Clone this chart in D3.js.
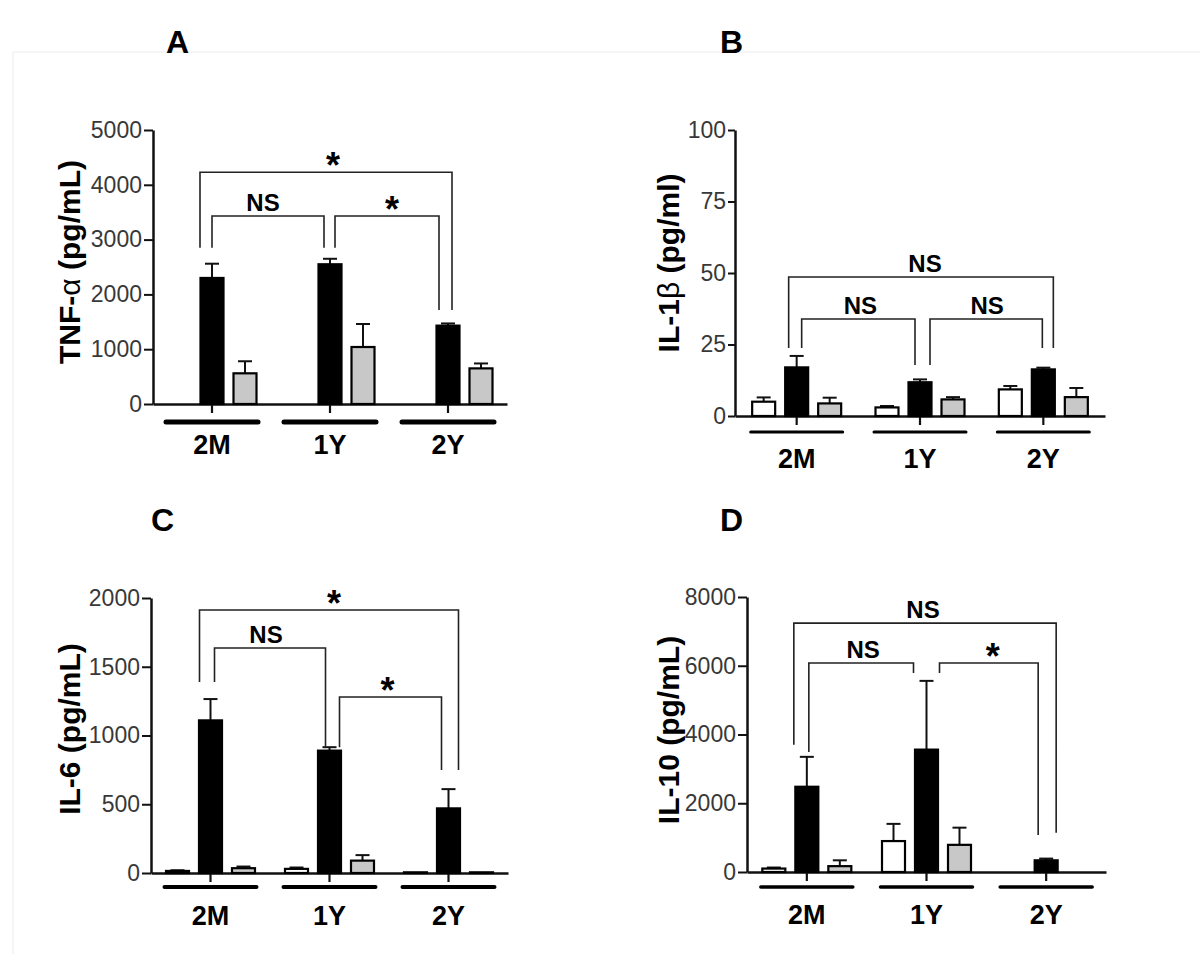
<!DOCTYPE html>
<html>
<head>
<meta charset="utf-8">
<script src="https://cdn.jsdelivr.net/npm/d3@7"></script>
<style>
  body { margin: 0; background: #fff; }
  svg { font-family: 'Liberation Sans', Arial, Helvetica, sans-serif; }
</style>
</head>
<body>
<div id="chart"></div>
<script>
// groups on the x axis and the three bars inside every group (white, black, gray)
const groups = ['2M', '1Y', '2Y'];
const series = ['white', 'black', 'gray'];

// A: TNF-alpha, rows = groups, columns = series
const tnfMean = [[0, 2300, 560], [0, 2550, 1040], [0, 1430, 650]];
const tnfErr = [[0, 260, 220], [0, 100, 420], [0, 40, 90]];
const tnfTicks = [0, 1000, 2000, 3000, 4000, 5000];

// B: IL-1beta
const il1Mean = [[5, 17, 4.4], [3, 11.8, 5.8], [9.3, 16.3, 6.6]];
const il1Err = [[1.5, 4, 2], [0.5, 1, 0.8], [1.2, 0.6, 3.2]];
const il1Ticks = [0, 25, 50, 75, 100];

// C: IL-6
const il6Mean = [[15, 1110, 35], [30, 890, 90], [5, 470, 5]];
const il6Err = [[5, 155, 12], [10, 25, 40], [0, 140, 0]];
const il6Ticks = [0, 500, 1000, 1500, 2000];

// D: IL-10
const il10Mean = [[100, 2480, 170], [900, 3560, 790], [0, 340, 0]];
const il10Err = [[30, 870, 170], [500, 2000, 500], [0, 50, 0]];
const il10Ticks = [0, 2000, 4000, 6000, 8000];

// significance brackets: from group, to group, bar level, leg ends (all in data units)
const tnfBrackets = [
  { label: '*', from: 0, to: 2, level: 4230, legFrom: 2850, legTo: 1715 },
  { label: 'NS', from: 0, to: 1, level: 3430, legFrom: 2850, legTo: 2850 },
  { label: '*', from: 1, to: 2, level: 3430, legFrom: 2850, legTo: 1715 }
];
const il1Brackets = [
  { label: 'NS', from: 0, to: 2, level: 48.6, legFrom: 23.8, legTo: 23.8 },
  { label: 'NS', from: 0, to: 1, level: 33.9, legFrom: 23.8, legTo: 17.8 },
  { label: 'NS', from: 1, to: 2, level: 33.9, legFrom: 17.8, legTo: 23.8 }
];
const il6Brackets = [
  { label: '*', from: 0, to: 2, level: 1913, legFrom: 1390, legTo: 750 },
  { label: 'NS', from: 0, to: 1, level: 1636, legFrom: 1390, legTo: 915 },
  { label: '*', from: 1, to: 2, level: 1280, legFrom: 915, legTo: 750 }
];
const il10Brackets = [
  { label: 'NS', from: 0, to: 2, level: 7240, legFrom: 3700, legTo: 1140 },
  { label: 'NS', from: 0, to: 1, level: 6080, legFrom: 3490, legTo: 5790 },
  { label: '*', from: 1, to: 2, level: 6080, legFrom: 5790, legTo: 1080 }
];

const fills = { white: '#ffffff', black: '#000000', gray: '#c8c8c8' };

const W = 1200, H = 954;
const svg = d3.select('#chart').append('svg')
  .attr('width', W).attr('height', H);

// faint frame seen in the source figure
svg.append('path')
  .attr('d', 'M13,954V52H1200')
  .attr('fill', 'none').attr('stroke', '#ececec').attr('stroke-width', 1);

// layout of each panel (pixel frames and nudges, not data)
const panels = [
  {
    letter: 'A', letterPos: [166, 53],
    frame: { left: 153, right: 507, top: 130, bottom: 404 }, max: 5000,
    ticks: tnfTicks, mean: tnfMean, err: tnfErr, brackets: tnfBrackets,
    nudge: [[-12, 4], [0, -6], [5, -9]], labelShift: [7, -5, 5],
    title: [['TNF-', 'bold'], ['\u03b1', 'normal'], [' (pg/mL)', 'bold']], titlePos: [80, 262],
    tick: 9, line: { dy: 18, w: 5 }, labelPad: 22
  },
  {
    letter: 'B', letterPos: [720, 53],
    frame: { left: 735, right: 1105, top: 130, bottom: 416 }, max: 100,
    ticks: il1Ticks, mean: il1Mean, err: il1Err, brackets: il1Brackets,
    nudge: [[-8, 10], [5, -5], [10, -1]], labelShift: [4, 2, 1],
    title: [['IL-1', 'bold'], ['\u03b2', 'normal'], [' (pg/ml)', 'bold']], titlePos: [679, 263],
    tick: 7, line: { dy: 16, w: 3 }, labelPad: 24
  },
  {
    letter: 'C', letterPos: [151, 531],
    frame: { left: 151, right: 508, top: 598, bottom: 873 }, max: 2000,
    ticks: il6Ticks, mean: il6Mean, err: il6Err, brackets: il6Brackets,
    nudge: [[-11, 10], [4, -4], [10, -7]], labelShift: [5, -4, -3],
    title: [['IL-6 (pg/mL)', 'bold']], titlePos: [80, 729],
    tick: 9, line: { dy: 14, w: 4 }, labelPad: 24
  },
  {
    letter: 'D', letterPos: [720, 531],
    frame: { left: 747, right: 1106, top: 597, bottom: 872 }, max: 8000,
    ticks: il10Ticks, mean: il10Mean, err: il10Err, brackets: il10Brackets,
    nudge: [[-13, 10], [2, -13], [13, -8]], labelShift: [-2, 2, 4],
    title: [['IL-10 (pg/mL)', 'bold']], titlePos: [679, 730],
    tick: 9, line: { dy: 15, w: 3.5 }, labelPad: 24
  }
];

panels.forEach(drawPanel);

function drawPanel(p) {
  const f = p.frame;
  const g = svg.append('g');

  const x = d3.scaleBand().domain(groups).range([f.left, f.right]);
  const xs = d3.scalePoint().domain(series).range([-33, 33]);
  const y = d3.scaleLinear().domain([0, p.max]).range([f.bottom, f.top]);
  const cx = gi => x(groups[gi]) + x.bandwidth() / 2;
  const barW = 23;

  // panel letter
  g.append('text')
    .attr('x', p.letterPos[0]).attr('y', p.letterPos[1])
    .attr('font-size', 32).attr('font-weight', 'bold').attr('fill', '#000')
    .text(p.letter);

  // y axis
  const yAxis = d3.axisLeft(y).tickValues(p.ticks).tickSize(p.tick).tickSizeOuter(0).tickPadding(2)
    .tickFormat(d3.format('d'));
  const ya = g.append('g').attr('transform', 'translate(' + f.left + ',0)').call(yAxis);
  ya.select('.domain').attr('stroke', '#111').attr('stroke-width', 2.5);
  ya.selectAll('.tick line').attr('stroke', '#111').attr('stroke-width', 2);
  ya.selectAll('.tick text').attr('font-size', 23).attr('fill', '#383838').attr('font-family', null);

  // x axis: short ticks at group centres, labels under the group lines
  const xAxis = d3.axisBottom(x).tickSize(9).tickSizeOuter(0).tickPadding(p.labelPad);
  const xa = g.append('g').attr('transform', 'translate(0,' + y(0) + ')').call(xAxis);
  xa.select('.domain').attr('stroke', '#111').attr('stroke-width', 2.5);
  xa.selectAll('.tick line').attr('stroke', '#111').attr('stroke-width', 2.2);
  xa.selectAll('.tick text').attr('font-size', 27).attr('font-weight', 'bold')
    .attr('fill', '#000').attr('font-family', null);

  // group underlines
  g.selectAll('line.grp').data(groups).join('line').attr('class', 'grp')
    .attr('x1', d => x(d) + x.bandwidth() / 2 - 46)
    .attr('x2', d => x(d) + x.bandwidth() / 2 + 46)
    .attr('y1', y(0) + p.line.dy).attr('y2', y(0) + p.line.dy)
    .attr('stroke', '#000').attr('stroke-width', p.line.w).attr('stroke-linecap', 'round');

  // flatten bars
  const bars = [];
  p.mean.forEach((row, gi) => row.forEach((m, si) => {
    bars.push({ gi, s: series[si], m, e: p.err[gi][si] });
  }));
  const shown = bars.filter(d => d.m > 0);

  // error bars (upper only)
  const eb = g.selectAll('g.err').data(shown.filter(d => d.e > 0)).join('g').attr('class', 'err');
  eb.append('line')
    .attr('x1', d => cx(d.gi) + xs(d.s)).attr('x2', d => cx(d.gi) + xs(d.s))
    .attr('y1', d => y(d.m)).attr('y2', d => y(d.m + d.e))
    .attr('stroke', '#111').attr('stroke-width', 2);
  eb.append('line')
    .attr('x1', d => cx(d.gi) + xs(d.s) - 7).attr('x2', d => cx(d.gi) + xs(d.s) + 7)
    .attr('y1', d => y(d.m + d.e)).attr('y2', d => y(d.m + d.e))
    .attr('stroke', '#111').attr('stroke-width', 2);

  // bars
  g.selectAll('rect.bar').data(shown).join('rect').attr('class', 'bar')
    .attr('x', d => cx(d.gi) + xs(d.s) - barW / 2)
    .attr('width', barW)
    .attr('y', d => y(d.m))
    .attr('height', d => y(0) - y(d.m))
    .attr('fill', d => fills[d.s])
    .attr('stroke', '#000').attr('stroke-width', 2.2);

  // significance brackets
  p.brackets.forEach((b, i) => {
    const x1 = cx(b.from) + p.nudge[i][0];
    const x2 = cx(b.to) + p.nudge[i][1];
    g.append('path')
      .attr('d', 'M' + x1 + ',' + y(b.legFrom) + 'V' + y(b.level) + 'H' + x2 + 'V' + y(b.legTo))
      .attr('fill', 'none').attr('stroke', '#222').attr('stroke-width', 1.6);
    const star = b.label === '*';
    g.append('text')
      .attr('x', (x1 + x2) / 2 + p.labelShift[i])
      .attr('y', star ? y(b.level) + 6 : y(b.level) - 5)
      .attr('text-anchor', 'middle')
      .attr('font-size', star ? 36 : 24).attr('font-weight', 'bold').attr('fill', '#000')
      .text(b.label);
  });

  // rotated y title
  const t = g.append('text')
    .attr('transform', 'translate(' + p.titlePos[0] + ',' + p.titlePos[1] + ') rotate(-90)')
    .attr('text-anchor', 'middle').attr('font-size', 30).attr('fill', '#000');
  p.title.forEach(part => t.append('tspan').attr('font-weight', part[1]).text(part[0]));
}
</script>
</body>
</html>
